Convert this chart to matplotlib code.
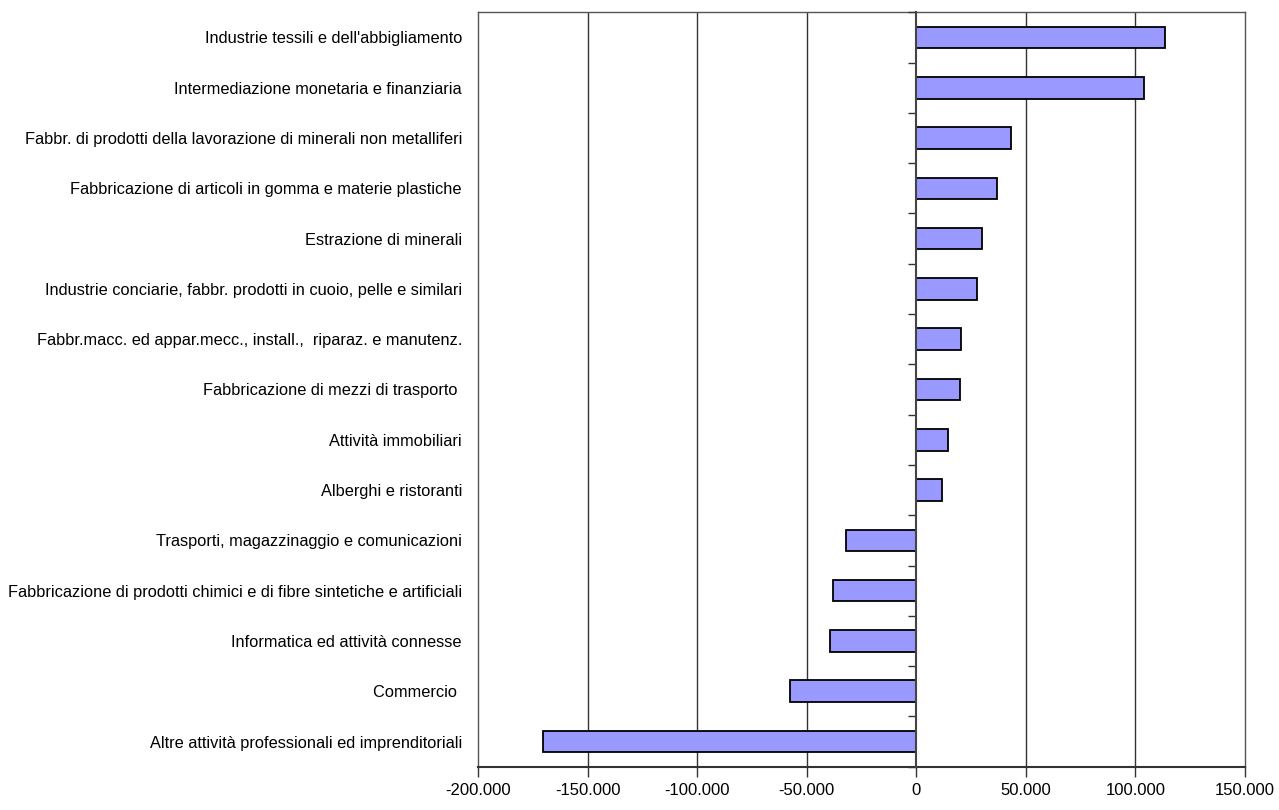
import numpy as np
import matplotlib
matplotlib.use("Agg")
import matplotlib.pyplot as plt
from matplotlib.ticker import FuncFormatter

plt.rcParams["font.family"] = ["Liberation Sans", "DejaVu Sans"]

settori = [
    "Industrie tessili e dell'abbigliamento",
    "Intermediazione monetaria e finanziaria",
    "Fabbr. di prodotti della lavorazione di minerali non metalliferi",
    "Fabbricazione di articoli in gomma e materie plastiche",
    "Estrazione di minerali",
    "Industrie conciarie, fabbr. prodotti in cuoio, pelle e similari",
    "Fabbr.macc. ed appar.mecc., install.,  riparaz. e manutenz.",
    "Fabbricazione di mezzi di trasporto ",
    "Attività immobiliari",
    "Alberghi e ristoranti",
    "Trasporti, magazzinaggio e comunicazioni",
    "Fabbricazione di prodotti chimici e di fibre sintetiche e artificiali",
    "Informatica ed attività connesse",
    "Commercio ",
    "Altre attività professionali ed imprenditoriali",
]
valori = [113400, 103800, 43200, 36700, 30000, 27800, 20500, 19900,
          14700, 11900, -32100, -37900, -39500, -57700, -170300]

xticks = [-200000, -150000, -100000, -50000, 0, 50000, 100000, 150000]

fig = plt.figure(figsize=(12.79, 8.10), dpi=100)
ax = fig.add_axes([0.3737, 0.0535, 0.5997, 0.9313])

y = np.arange(len(settori))
ax.barh(y, valori, height=0.43, color="#9999FF", edgecolor="black",
        linewidth=1.3, zorder=3)

ax.set_xlim(-200000, 150000)
ax.set_ylim(len(settori) - 0.5, -0.5)

ax.set_xticks(xticks)
ax.xaxis.set_major_formatter(
    FuncFormatter(lambda v, p: "{:,.0f}".format(v).replace(",", ".")))
ax.tick_params(axis="x", direction="out", length=7, width=1, color="#333333",
               labelsize=12, pad=5)
for v in xticks[1:-1]:
    if v != 0:
        ax.axvline(v, color="#333333", linewidth=1, zorder=1)

ax.set_yticks(y)
ax.set_yticklabels(settori)
ax.tick_params(axis="y", length=0, labelsize=11.8, pad=11.5)

for s in ax.spines.values():
    s.set_color("#555555")
    s.set_linewidth(1)
ax.spines["bottom"].set_color("#333333")
ax.spines["bottom"].set_linewidth(1.5)

# asse dello zero con le tacche tra le categorie
ax2 = ax.twinx()
ax2.set_ylim(ax.get_ylim())
ax2.spines["left"].set_position(("data", 0))
ax2.spines["left"].set_color("#444444")
ax2.spines["left"].set_linewidth(1.5)
ax2.spines["left"].set_zorder(4)
for k in ["right", "top", "bottom"]:
    ax2.spines[k].set_visible(False)
ax2.yaxis.set_ticks_position("left")
ax2.set_yticks(np.arange(len(settori) + 1) - 0.5)
ax2.set_yticklabels([])
ax2.tick_params(axis="y", direction="out", length=6, width=1, color="#333333")

fig.savefig("out.png", dpi=100)
